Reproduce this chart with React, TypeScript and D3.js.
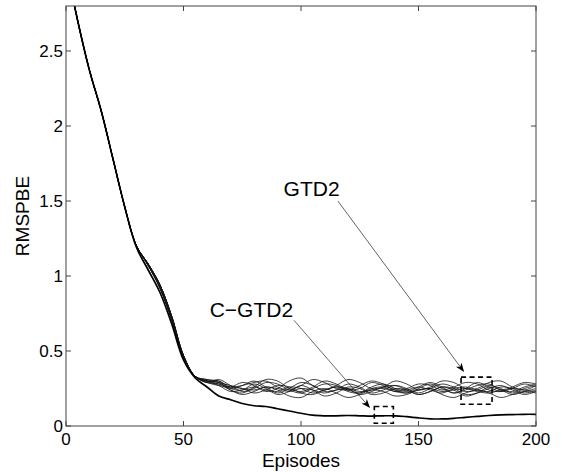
import React from "react";
import * as d3 from "d3";

// sample points (episodes) for every run
const episodes = [0, 5, 10, 15, 20, 25, 30, 35, 40, 45, 50, 55, 60, 65, 70, 75, 80, 85, 90, 95, 100,
  105, 110, 115, 120, 125, 130, 135, 140, 145, 150, 155, 160, 165, 170, 175, 180, 185, 190, 195, 200];

const xTicks = [0, 50, 100, 150, 200];
const yTicks = [0, 0.5, 1, 1.5, 2, 2.5];

// shared early descent, episodes 0..55
const gtd2DescentA = [3.08, 2.7, 2.37, 2.1, 1.78, 1.46, 1.2, 1.08, 0.94, 0.73, 0.47, 0.33];
const gtd2DescentB = [3.08, 2.7, 2.37, 2.1, 1.78, 1.46, 1.2, 1.07, 0.92, 0.71, 0.46, 0.33];
const cgtd2Descent = [3.08, 2.7, 2.37, 2.1, 1.78, 1.46, 1.19, 1.04, 0.89, 0.68, 0.44, 0.32];

// episodes 60..200
const cgtd2Tail = [0.26, 0.2, 0.175, 0.15, 0.135, 0.13, 0.115, 0.1, 0.085, 0.072, 0.068, 0.068, 0.07, 0.068,
  0.066, 0.068, 0.068, 0.062, 0.054, 0.048, 0.047, 0.051, 0.058, 0.064, 0.07, 0.074, 0.076, 0.078, 0.078];

const gtd2Run1 = [0.3, 0.29, 0.25, 0.27, 0.3, 0.26, 0.22, 0.25, 0.29, 0.27, 0.23, 0.24, 0.28, 0.26, 0.22,
  0.24, 0.27, 0.25, 0.22, 0.25, 0.28, 0.26, 0.23, 0.24, 0.27, 0.25, 0.22, 0.25, 0.27];
const gtd2Run2 = [0.29, 0.31, 0.27, 0.23, 0.25, 0.29, 0.28, 0.24, 0.22, 0.25, 0.28, 0.27, 0.23, 0.22, 0.26,
  0.28, 0.25, 0.23, 0.26, 0.29, 0.26, 0.22, 0.24, 0.27, 0.28, 0.24, 0.23, 0.26, 0.28];
const gtd2Run3 = [0.3, 0.28, 0.24, 0.22, 0.26, 0.31, 0.3, 0.25, 0.23, 0.26, 0.3, 0.28, 0.24, 0.25, 0.29,
  0.27, 0.24, 0.22, 0.25, 0.28, 0.25, 0.22, 0.25, 0.29, 0.26, 0.23, 0.25, 0.28, 0.26];
const gtd2Run4 = [0.31, 0.3, 0.26, 0.25, 0.22, 0.24, 0.27, 0.26, 0.22, 0.21, 0.24, 0.26, 0.25, 0.21, 0.23,
  0.26, 0.27, 0.24, 0.21, 0.23, 0.26, 0.25, 0.21, 0.22, 0.25, 0.27, 0.24, 0.21, 0.23];
const gtd2Run5 = [0.29, 0.27, 0.26, 0.29, 0.27, 0.23, 0.25, 0.3, 0.32, 0.27, 0.24, 0.27, 0.31, 0.29, 0.25,
  0.26, 0.3, 0.28, 0.24, 0.26, 0.3, 0.29, 0.25, 0.25, 0.29, 0.3, 0.26, 0.24, 0.27];
const gtd2Run6 = [0.3, 0.29, 0.24, 0.21, 0.23, 0.26, 0.24, 0.2, 0.19, 0.23, 0.25, 0.22, 0.19, 0.21, 0.24,
  0.23, 0.2, 0.21, 0.24, 0.25, 0.21, 0.19, 0.22, 0.24, 0.22, 0.19, 0.21, 0.23, 0.22];
const gtd2Run7 = [0.31, 0.29, 0.27, 0.25, 0.24, 0.26, 0.25, 0.23, 0.25, 0.24, 0.22, 0.24, 0.25, 0.23, 0.24,
  0.25, 0.23, 0.22, 0.24, 0.25, 0.23, 0.24, 0.25, 0.23, 0.22, 0.24, 0.25, 0.24, 0.23];
const gtd2Run8 = [0.3, 0.3, 0.25, 0.24, 0.28, 0.25, 0.21, 0.23, 0.27, 0.24, 0.2, 0.22, 0.26, 0.25, 0.21,
  0.22, 0.25, 0.24, 0.21, 0.23, 0.26, 0.24, 0.2, 0.22, 0.26, 0.24, 0.21, 0.23, 0.25];
const gtd2Run9 = [0.29, 0.28, 0.26, 0.27, 0.29, 0.3, 0.26, 0.24, 0.27, 0.31, 0.29, 0.25, 0.24, 0.27, 0.3,
  0.28, 0.24, 0.25, 0.28, 0.27, 0.24, 0.26, 0.29, 0.28, 0.24, 0.23, 0.26, 0.29, 0.28];
const gtd2Run10 = [0.3, 0.27, 0.23, 0.24, 0.26, 0.24, 0.23, 0.26, 0.25, 0.22, 0.24, 0.26, 0.24, 0.22, 0.25,
  0.26, 0.23, 0.24, 0.26, 0.24, 0.22, 0.25, 0.26, 0.24, 0.23, 0.26, 0.25, 0.22, 0.24];

const gtd2Tails = [gtd2Run1, gtd2Run2, gtd2Run3, gtd2Run4, gtd2Run5, gtd2Run6, gtd2Run7, gtd2Run8, gtd2Run9, gtd2Run10];

const width = 562;
const height = 472;
const left = 66, right = 536, top = 6, bottom = 426;
const font = "'Liberation Sans', Arial, Helvetica, sans-serif";

const x = d3.scaleLinear().domain([0, 200]).range([left, right]);
const y = d3.scaleLinear().domain([0, 2.8]).range([bottom, top]);

const line = d3.line<number>()
  .x((d, i) => x(episodes[i]))
  .y(d => y(d))
  .curve(d3.curveCatmullRom.alpha(0.5));

function Arrow({ from, to }: { from: [number, number]; to: [number, number] }) {
  const x1 = x(from[0]), y1 = y(from[1]);
  const x2 = x(to[0]), y2 = y(to[1]);
  const a = Math.atan2(y2 - y1, x2 - x1);
  const len = 9, hw = 3.5, notch = 6.5;
  const pt = (d: number, s: number) => [x2 - d * Math.cos(a) - s * Math.sin(a), y2 - d * Math.sin(a) + s * Math.cos(a)];
  const head = [[x2, y2], pt(len, hw), pt(notch, 0), pt(len, -hw)].map(p => p.join(",")).join(" ");
  return (
    <g>
      <line x1={x1} y1={y1} x2={pt(notch, 0)[0]} y2={pt(notch, 0)[1]} stroke="#222" strokeWidth={0.7} />
      <polygon points={head} fill="#000" />
    </g>
  );
}

function DashBox({ x0, x1, y0, y1 }: { x0: number; x1: number; y0: number; y1: number }) {
  return (
    <rect x={x(x0)} y={y(y1)} width={x(x1) - x(x0)} height={y(y0) - y(y1)}
      fill="none" stroke="#000" strokeWidth={1.6} strokeDasharray="5,3.5" />
  );
}

export default function App() {
  const gtd2Series = gtd2Tails.map((tail, i) => (i % 2 === 0 ? gtd2DescentA : gtd2DescentB).concat(tail));
  const cgtd2Series = cgtd2Descent.concat(cgtd2Tail);

  return (
    <svg width={width} height={height} style={{ position: "absolute", left: 0, top: 0, background: "#fff" }}
      fontFamily={font}>
      <defs>
        <clipPath id="plot">
          <rect x={left} y={top} width={right - left} height={bottom - top} />
        </clipPath>
      </defs>
      <rect x={0} y={0} width={width} height={height} fill="#fff" />

      <g clipPath="url(#plot)" fill="none">
        {gtd2Series.map((s, i) => (
          <path key={i} d={line(s) || ""} stroke="#111" strokeWidth={0.8} />
        ))}
        <path d={line(cgtd2Series) || ""} stroke="#000" strokeWidth={1.7} />
      </g>

      {/* axes box */}
      <rect x={left} y={top} width={right - left} height={bottom - top} fill="none" stroke="#444" strokeWidth={1} />
      {xTicks.map(t => (
        <g key={"x" + t}>
          <line x1={x(t)} x2={x(t)} y1={bottom} y2={bottom - 5} stroke="#444" />
          <line x1={x(t)} x2={x(t)} y1={top} y2={top + 5} stroke="#444" />
          <text x={x(t)} y={445} textAnchor="middle" fontSize={17}>{t}</text>
        </g>
      ))}
      {yTicks.map(t => (
        <g key={"y" + t}>
          <line x1={left} x2={left + 5} y1={y(t)} y2={y(t)} stroke="#444" />
          <line x1={right} x2={right - 5} y1={y(t)} y2={y(t)} stroke="#444" />
          <text x={63} y={y(t)} dy="0.35em" textAnchor="end" fontSize={17}>{t}</text>
        </g>
      ))}
      <text x={(left + right) / 2} y={467} textAnchor="middle" fontSize={19}>Episodes</text>
      <text transform={`translate(29, ${(top + bottom) / 2}) rotate(-90)`} textAnchor="middle" fontSize={19}>RMSPBE</text>

      {/* annotations */}
      <text x={x(104.5)} y={y(1.533)} textAnchor="middle" fontSize={21}>GTD2</text>
      <Arrow from={[115.7, 1.5]} to={[169.4, 0.36]} />
      <DashBox x0={168.1} x1={181.3} y0={0.145} y1={0.326} />

      <text x={x(78.9)} y={y(0.727)} textAnchor="middle" fontSize={21}>C−GTD2</text>
      <Arrow from={[97, 0.705]} to={[129.4, 0.12]} />
      <DashBox x0={131.2} x1={139.3} y0={0.018} y1={0.13} />
    </svg>
  );
}
